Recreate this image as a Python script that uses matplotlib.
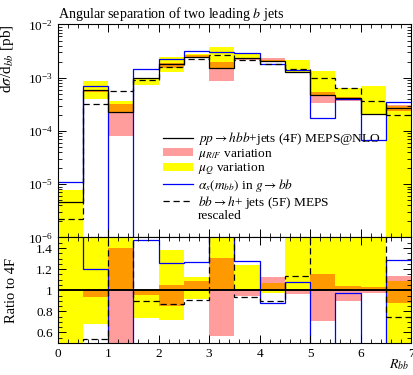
import numpy as np
import matplotlib
matplotlib.use("Agg")
import matplotlib.pyplot as plt
from matplotlib.lines import Line2D
from matplotlib.patches import Patch
from matplotlib.ticker import MultipleLocator, FixedLocator, LogLocator, NullFormatter

plt.rcParams['font.family'] = ['Liberation Serif', 'DejaVu Serif']
plt.rcParams['mathtext.fontset'] = 'stix'

# R_bb bins
edges = [0.0, 0.5, 1.0, 1.5, 2.0, 2.5, 3.0, 3.5, 4.0, 4.5, 5.0, 5.5, 6.0, 6.5, 7.0]

# pp -> hbb+jets (4F) MEPS@NLO
central_4f = [4.7e-6, 5.9e-4, 2.27e-4, 1.0e-3, 1.8e-3, 2.5e-3, 1.54e-3,
              2.3e-3, 2.05e-3, 1.27e-3, 4.7e-4, 4.1e-4, 2.05e-4, 2.73e-4]
# alpha_s(m_bb) in g -> bb
alphas_var = [1.1e-5, 7.1e-4, 1e-7, 1.48e-3, 2.27e-3, 3.16e-3, 3.08e-3,
              2.94e-3, 1.8e-3, 1.37e-3, 1.78e-4, 4.0e-4, 6.8e-5, 3.5e-4]
# bb -> h + jets (5F) MEPS rescaled
meps_5f = [2.2e-6, 3.17e-4, 5.7e-4, 9.0e-4, 1.56e-3, 2.27e-3, 2.7e-3,
           2.15e-3, 1.84e-3, 1.44e-3, 9.7e-4, 6.5e-4, 3.64e-4, 2.03e-4]
# mu_Q variation band
mu_q_lo = [4.7e-7, 4.03e-4, 2.27e-4, 7.36e-4, 1.285e-3, 2.3e-3, 1.54e-3,
           2.3e-3, 1.99e-3, 1.27e-3, 4.7e-4, 4.1e-4, 2.05e-4, 8e-7]
mu_q_hi = [7.7e-6, 8.85e-4, 3.65e-4, 1.0e-3, 2.49e-3, 2.81e-3, 3.82e-3,
           2.85e-3, 2.19e-3, 2.11e-3, 1.32e-3, 6.35e-4, 7.05e-4, 2.98e-4]
# mu_R/F variation band
mu_rf_lo = [4.7e-6, 5.51e-4, 8.06e-5, 9.55e-4, 1.53e-3, 2.475e-3, 8.72e-4,
            2.185e-3, 2.05e-3, 1.225e-3, 3.33e-4, 3.67e-4, 2.0e-4, 2.4e-4]
mu_rf_hi = [4.7e-6, 5.9e-4, 3.18e-4, 1.0e-3, 1.895e-3, 2.71e-3, 2.01e-3,
            2.3e-3, 2.31e-3, 1.27e-3, 5.42e-4, 4.26e-4, 2.11e-4, 3.11e-4]

YELLOW = '#ffff00'
PINK = '#ff9c9c'
ORANGE = '#ff9900'
BLUE = '#0000ff'

c = np.array(central_4f)
bands = {
    'q': (np.array(mu_q_lo), np.array(mu_q_hi)),
    'rf': (np.array(mu_rf_lo), np.array(mu_rf_hi)),
}


def draw(ax, scale):
    qlo, qhi = bands['q'][0] / scale, bands['q'][1] / scale
    rlo, rhi = bands['rf'][0] / scale, bands['rf'][1] / scale
    ax.stairs(qhi, edges, baseline=qlo, fill=True, color=YELLOW, lw=0)
    ax.stairs(rhi, edges, baseline=rlo, fill=True, color=PINK, lw=0)
    # overlap of the two bands shows up orange
    olo = np.maximum(qlo, rlo)
    ohi = np.maximum(np.minimum(qhi, rhi), olo)
    ax.stairs(ohi, edges, baseline=olo, fill=True, color=ORANGE, lw=0)
    ax.stairs(np.array(alphas_var) / scale, edges, baseline=None, color=BLUE, lw=0.9)
    ax.stairs(np.array(meps_5f) / scale, edges, baseline=None, color='black', lw=0.9,
              linestyle=(0, (5, 3)))
    ax.stairs(c / scale, edges, baseline=None, color='black',
              lw=0.9 if np.isscalar(scale) else 1.4)


fig = plt.figure(figsize=(4.14, 3.75), dpi=100)
ax = fig.add_axes([0.139, 0.3667, 0.854, 0.568])
rax = fig.add_axes([0.139, 0.0853, 0.854, 0.2814])

draw(ax, 1.0)
draw(rax, c)

ax.set_yscale('log')
ax.set_ylim(1e-6, 1e-2)
ax.set_xlim(0, 7)
rax.set_xlim(0, 7)
rax.set_ylim(0.5, 1.5)

for a in (ax, rax):
    a.tick_params(which='both', direction='in', top=True, right=True, labelsize=9.5)
    a.tick_params(which='major', length=6, width=0.7)
    a.tick_params(which='minor', length=3.2, width=0.6)
    a.xaxis.set_major_locator(MultipleLocator(1))
    a.xaxis.set_minor_locator(MultipleLocator(0.2))
    for s in a.spines.values():
        s.set_linewidth(0.8)

ax.yaxis.set_major_locator(LogLocator(base=10, numticks=10))
ax.yaxis.set_minor_locator(LogLocator(base=10, subs=np.arange(2, 10), numticks=20))
ax.yaxis.set_minor_formatter(NullFormatter())
ax.set_xticklabels([])

rticks = [0.6, 0.8, 1.0, 1.2, 1.4]
rax.yaxis.set_major_locator(FixedLocator(rticks))
rax.set_yticklabels(['{:g}'.format(t) for t in rticks])
rax.yaxis.set_minor_locator(MultipleLocator(0.05))

ax.set_title('Angular separation of two leading $b$ jets', loc='left', fontsize=10.1, pad=5)
ax.set_ylabel(r'd$\sigma$/d$_{bb}$ [pb]', fontsize=11, loc='top')
ax.yaxis.set_label_coords(-0.118, 1.0)
rax.set_ylabel('Ratio to 4F', fontsize=10.5)
rax.yaxis.set_label_coords(-0.113, 0.5)
rax.set_xlabel('$R_{bb}$', fontsize=10)
rax.xaxis.set_label_coords(0.995, -0.13)
rax.xaxis.label.set_horizontalalignment('right')

handles = [
    Line2D([], [], color='black', lw=0.9),
    Patch(facecolor=PINK, edgecolor='none'),
    Patch(facecolor=YELLOW, edgecolor='none'),
    Line2D([], [], color=BLUE, lw=0.9),
    Line2D([], [], color='black', lw=0.9, linestyle=(0, (5, 3))),
    Line2D([], [], color='none'),
]
labels = [
    r'$pp \rightarrow hbb$+jets (4F) MEPS@NLO',
    r'$\mu_{R/F}$ variation',
    r'$\mu_{Q}$ variation',
    r'$\alpha_s(m_{bb})$ in $g \rightarrow bb$',
    r'$bb \rightarrow h$+ jets (5F) MEPS',
    'rescaled',
]
ax.legend(handles, labels, loc='upper left', bbox_to_anchor=(0.298, 0.505),
          frameon=False, fontsize=9.6, handlelength=2.25, handleheight=0.55,
          handletextpad=0.4, labelspacing=-0.02, borderpad=0, borderaxespad=0)

fig.savefig('out.png', dpi=100)
